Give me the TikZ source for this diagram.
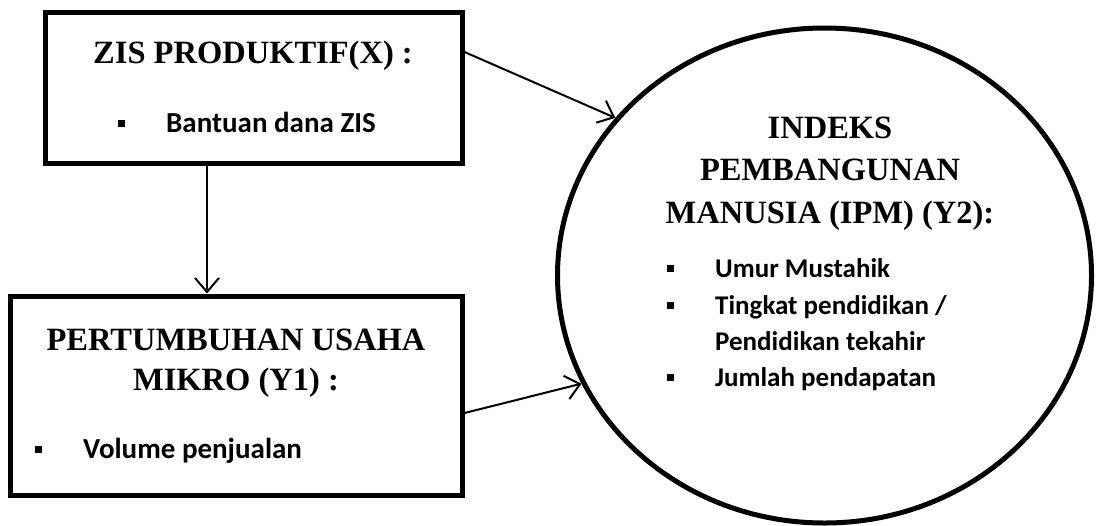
\documentclass[tikz,border=0pt]{standalone}
\usepackage{fontspec}
\setmainfont{Liberation Serif}
\newfontfamily\calfont{Carlito}
\usetikzlibrary{shapes.geometric,arrows.meta}
\tikzset{
  boxstyle/.style={draw,line width=5pt,inner sep=0pt},
  ellstyle/.style={draw,ellipse,line width=5pt,inner sep=0pt},
  arr/.style={line width=2pt,-{Straight Barb[length=14pt,width=24pt,line width=2pt]}},
  ttl/.style={anchor=base,inner sep=0pt,font=\fontsize{32.5}{38}\selectfont\bfseries},
  itm/.style={anchor=base west,inner sep=0pt,font=\fontsize{27}{32}\calfont\bfseries},
  itmbig/.style={itm,font=\fontsize{29}{34}\calfont\bfseries},
}
\newcommand{\bulsq}{\rule[5pt]{7pt}{7.5pt}\hspace{41pt}}
\begin{document}
\begin{tikzpicture}[x=1pt,y=-1pt]
\useasboundingbox (0,0) rectangle (1099,525);
\node[boxstyle,minimum width=417pt,minimum height=151pt] (box1) at (253.5,87.5) {};
\node[boxstyle,minimum width=452pt,minimum height=199pt] (box2) at (236,395.5) {};
\node[ellstyle,minimum width=534pt,minimum height=495pt] (ipm) at (824.5,275.5) {};
% texts
\node[ttl] (t1) at (253,63) {ZIS PRODUKTIF(X) :};
\node[itmbig] (b1) at (118,132) {\bulsq Bantuan dana ZIS};
\node[ttl] (t2a) at (236,350) {PERTUMBUHAN USAHA};
\node[ttl] (t2b) at (236,390) {MIKRO (Y1) :};
\node[itmbig] (b2) at (35,458) {\bulsq Volume penjualan};
\node[ttl] (t3a) at (830,138) {INDEKS};
\node[ttl] (t3b) at (830,180) {PEMBANGUNAN};
\node[ttl] (t3c) at (830,223) {MANUSIA (IPM) (Y2):};
\node[itm] (c1) at (667,277) {\bulsq Umur Mustahik};
\node[itm] (c2) at (667,314) {\bulsq Tingkat pendidikan /};
\node[itm] (c3) at (715,350) {Pendidikan tekahir};
\node[itm] (c4) at (667,386) {\bulsq Jumlah pendapatan};
% connectors
\draw[arr] ([yshift=35.5pt]box1.east) -- (ipm.143);
\draw[arr] ([yshift=-17.5pt]box2.east) -- (ipm.204.5);
\draw[arr] ([xshift=-46.5pt]box1.south) -- ([xshift=-46.5pt]box1.south |- box2.north);
\end{tikzpicture}
\end{document}
